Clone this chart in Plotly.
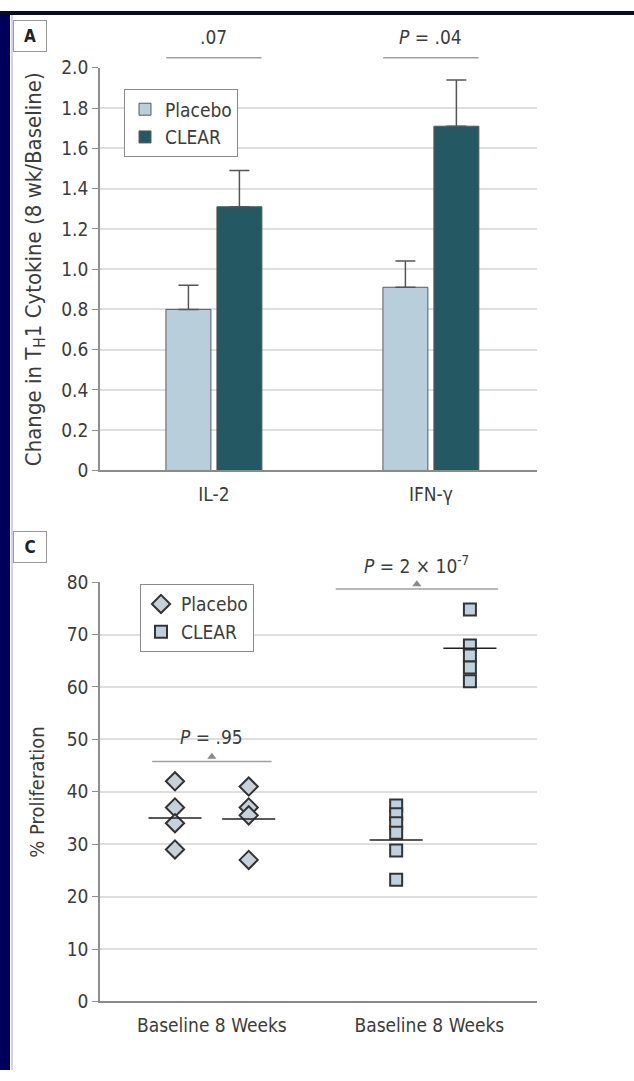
import plotly.graph_objects as go

W, H = 634, 1081

# ---------------- Data: panel A ----------------
cytokines = ["IL-2", "IFN-γ"]
placebo_ratio = [0.80, 0.91]
placebo_err = [0.12, 0.13]
clear_ratio = [1.31, 1.71]
clear_err = [0.18, 0.23]
ratio_p_labels = [".07", "<i>P</i> = .04"]
ratio_tickvals = [0, 0.2, 0.4, 0.6, 0.8, 1.0, 1.2, 1.4, 1.6, 1.8, 2.0]
ratio_ticktext = ["0", "0.2", "0.4", "0.6", "0.8", "1.0", "1.2", "1.4", "1.6", "1.8", "2.0"]

# ---------------- Data: panel C ----------------
time_label = "Baseline 8 Weeks"
placebo_baseline = [42, 37, 34, 29]
placebo_8wk = [41, 37, 35.5, 27]
clear_baseline = [37.4, 35.7, 34, 32.2, 28.8, 23.2]
clear_8wk = [74.8, 67.9, 66.0, 63.7, 61.1]
group_means = [35.0, 34.8, 30.8, 67.4]
prolif_p_labels = ["<i>P</i> = .95", "<i>P</i> = 2 × 10<sup>-7</sup>"]
prolif_tickvals = [0, 10, 20, 30, 40, 50, 60, 70, 80]

# ---------------- Styles ----------------
FONT = "Liberation Sans Narrow, DejaVu Sans Condensed, Arial Narrow, sans-serif"
TXT = "#3c3c3c"
GRID = "#dedede"
AXIS = "#8f8f8f"
PLACEBO_C = "#b9cedb"
CLEAR_C = "#245863"
EDGE = "#5a5a5a"
FS = 19

# pixel geometry of plot areas -> paper domains (margins are zero)
def px_x(p):
    return p / W

def px_y(p):
    return 1 - p / H

A_xdom = [px_x(100), px_x(537)]
A_ydom = [px_y(469), px_y(58)]
C_xdom = [px_x(100), px_x(537)]
C_ydom = [px_y(1011), px_y(583)]
A_xrange = [-0.525, 1.489]
A_yrange = [0, 2.0]
C_xrange = [-1.017, 4.91]
C_yrange = [0, 80]


def to_paper(v, rng, dom):
    return dom[0] + (v - rng[0]) / (rng[1] - rng[0]) * (dom[1] - dom[0])


fig = go.Figure()

# ---- Panel A bars ----
fig.add_trace(go.Bar(
    x=cytokines, y=placebo_ratio, name="Placebo",
    marker=dict(color=PLACEBO_C, line=dict(color=EDGE, width=1)),
    error_y=dict(type="data", array=placebo_err, arrayminus=[0] * len(placebo_err),
                 symmetric=False, color="#555555", thickness=1.5, width=10),
    xaxis="x", yaxis="y", legend="legend",
))
fig.add_trace(go.Bar(
    x=cytokines, y=clear_ratio, name="CLEAR",
    marker=dict(color=CLEAR_C, line=dict(color=EDGE, width=1)),
    error_y=dict(type="data", array=clear_err, arrayminus=[0] * len(clear_err),
                 symmetric=False, color="#555555", thickness=1.5, width=10),
    xaxis="x", yaxis="y", legend="legend",
))

# ---- Panel C points ----
groups = [placebo_baseline, placebo_8wk, clear_baseline, clear_8wk]
group_pos = [0, 1, 3, 4]
group_arm = ["Placebo", "Placebo", "CLEAR", "CLEAR"]
sym = {"Placebo": "diamond", "CLEAR": "square"}
fillc = {"Placebo": "#c6d1d9", "CLEAR": "#bdd2de"}
msize = {"Placebo": 14, "CLEAR": 12}
shown = set()
for vals, pos, arm in zip(groups, group_pos, group_arm):
    fig.add_trace(go.Scatter(
        x=[pos] * len(vals), y=vals, mode="markers", name=arm,
        marker=dict(symbol=sym[arm], size=msize[arm], color=fillc[arm],
                    line=dict(color="#333333", width=2)),
        showlegend=arm not in shown, legendgroup=arm,
        xaxis="x2", yaxis="y2", legend="legend2",
    ))
    shown.add(arm)

for m, pos in zip(group_means, group_pos):
    fig.add_trace(go.Scatter(
        x=[pos - 0.36, pos + 0.36], y=[m, m], mode="lines",
        line=dict(color="#222222", width=1.6), showlegend=False,
        hoverinfo="skip", xaxis="x2", yaxis="y2",
    ))

shapes = []
annotations = []

# ---- P-value brackets, panel A ----
for i, lab in enumerate(ratio_p_labels):
    x0 = to_paper(i - 0.22, A_xrange, A_xdom)
    x1 = to_paper(i + 0.22, A_xrange, A_xdom)
    yl = to_paper(2.05, A_yrange, A_ydom)
    shapes.append(dict(type="line", xref="paper", yref="paper", x0=x0, x1=x1, y0=yl, y1=yl,
                       line=dict(color="#a0a0a0", width=1.5)))
    annotations.append(dict(x=i, xref="x", y=to_paper(2.155, A_yrange, A_ydom), yref="paper",
                            text=lab, showarrow=False, font=dict(size=FS, color=TXT),
                            xanchor="center", yanchor="middle"))
fig.add_trace(go.Scatter(
    x=[0, 1], y=[2.068, 2.068], mode="markers",
    marker=dict(symbol="triangle-up", size=8, color="#8a8a8a"),
    cliponaxis=False, showlegend=False, hoverinfo="skip", xaxis="x", yaxis="y",
))

# ---- P-value brackets, panel C ----
c_brackets = [(0.5, 0.81, 45.8), (3.28, 1.10, 78.7)]
for (cx, hw, lvl), lab in zip(c_brackets, prolif_p_labels):
    x0 = to_paper(cx - hw, C_xrange, C_xdom)
    x1 = to_paper(cx + hw, C_xrange, C_xdom)
    yl = to_paper(lvl, C_yrange, C_ydom)
    shapes.append(dict(type="line", xref="paper", yref="paper", x0=x0, x1=x1, y0=yl, y1=yl,
                       line=dict(color="#a0a0a0", width=1.5)))
    annotations.append(dict(x=cx, xref="x2", y=to_paper(lvl + 4.6, C_yrange, C_ydom), yref="paper",
                            text=lab, showarrow=False, font=dict(size=FS, color=TXT),
                            xanchor="center", yanchor="middle"))
fig.add_trace(go.Scatter(
    x=[b[0] for b in c_brackets], y=[b[2] + 0.9 for b in c_brackets], mode="markers",
    marker=dict(symbol="triangle-up", size=8, color="#8a8a8a"),
    cliponaxis=False, showlegend=False, hoverinfo="skip", xaxis="x2", yaxis="y2",
))

# ---- Axis titles ----
annotations.append(dict(x=px_x(35), y=(A_ydom[0] + A_ydom[1]) / 2, xref="paper", yref="paper",
                        text="Change in T<sub>H</sub>1 Cytokine (8 wk/Baseline)", textangle=-90,
                        showarrow=False, font=dict(size=22, color=TXT), xanchor="center", yanchor="middle"))
annotations.append(dict(x=px_x(37), y=(C_ydom[0] + C_ydom[1]) / 2, xref="paper", yref="paper",
                        text="% Proliferation", textangle=-90,
                        showarrow=False, font=dict(size=20, color=TXT), xanchor="center", yanchor="middle"))

# ---- Panel labels ----
for lab, ytop in [("A", 9), ("C", 531)]:
    annotations.append(dict(x=px_x(13), y=px_y(ytop), xref="paper", yref="paper", text="<b>%s</b>" % lab,
                            showarrow=False, xanchor="left", yanchor="top", width=24, height=22,
                            borderpad=4, bordercolor="#9a9a9a", borderwidth=1,
                            font=dict(size=17, color="#222222"), bgcolor="white"))

# ---- Frame decorations (navy strip, top band, thin border) ----
shapes.append(dict(type="rect", xref="paper", yref="paper", x0=0, x1=px_x(10), y0=0, y1=1,
                   fillcolor="#00005a", line=dict(width=0), layer="above"))
shapes.append(dict(type="rect", xref="paper", yref="paper", x0=0, x1=1, y0=px_y(4), y1=1,
                   fillcolor="#0b0b20", line=dict(width=0), layer="above"))
shapes.append(dict(type="line", xref="paper", yref="paper", x0=px_x(12), x1=px_x(12), y0=0, y1=px_y(4),
                   line=dict(color="#a8a8a8", width=1), layer="above"))

tickfont = dict(size=FS, color=TXT, family=FONT)
fig.update_layout(
    width=W, height=H, margin=dict(l=0, r=0, t=0, b=0),
    paper_bgcolor="white", plot_bgcolor="white",
    font=dict(family=FONT, color=TXT),
    barmode="group", bargap=0.53, bargroupgap=0.118,
    xaxis=dict(domain=A_xdom, range=A_xrange, type="category", showgrid=False,
               showline=True, linecolor="#8a8a8a", linewidth=2, ticks="outside",
               ticklen=6, tickcolor="rgba(0,0,0,0)", tickfont=tickfont, anchor="y",
               zeroline=False, fixedrange=True),
    yaxis=dict(domain=A_ydom, range=A_yrange, tickvals=ratio_tickvals, ticktext=ratio_ticktext,
               showgrid=True, gridcolor=GRID, gridwidth=1.5, showline=True, linecolor=AXIS,
               linewidth=1.5, ticks="outside", ticklen=6, tickcolor=AXIS, tickfont=tickfont,
               zeroline=False, anchor="x"),
    xaxis2=dict(domain=C_xdom, range=C_xrange, tickvals=[0.5, 3.45], ticktext=[time_label, time_label],
                showgrid=False, showline=True, linecolor="#8a8a8a", linewidth=2, ticks="outside",
                ticklen=6, tickcolor="rgba(0,0,0,0)", tickfont=tickfont, anchor="y2", zeroline=False),
    yaxis2=dict(domain=C_ydom, range=C_yrange, tickvals=prolif_tickvals,
                showgrid=True, gridcolor=GRID, gridwidth=1.5, showline=True, linecolor=AXIS,
                linewidth=1.5, ticks="outside", ticklen=6, tickcolor=AXIS, tickfont=tickfont,
                zeroline=False, anchor="x2"),
    legend=dict(x=px_x(124), y=px_y(80), xanchor="left", yanchor="top", bgcolor="white",
                bordercolor="#8a8a8a", borderwidth=1, font=dict(size=FS, color=TXT),
                traceorder="normal", itemclick=False),
    legend2=dict(x=px_x(140), y=px_y(585), xanchor="left", yanchor="top", bgcolor="white",
                 bordercolor="#8a8a8a", borderwidth=1, font=dict(size=FS, color=TXT),
                 traceorder="normal", itemclick=False),
    shapes=shapes, annotations=annotations, showlegend=True,
)

fig.write_html(
    "out.html",
    config={"displayModeBar": False},
    post_script="document.body.style.margin='0';document.body.style.overflow='hidden';",
)
